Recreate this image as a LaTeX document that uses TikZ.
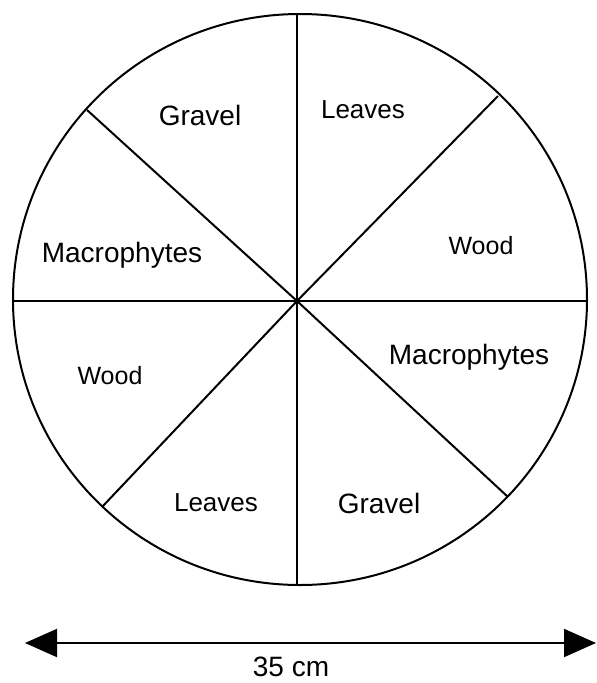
\documentclass[tikz,border=0pt]{standalone}
\usepackage{fontspec}
\setmainfont{Liberation Sans}
\usetikzlibrary{arrows.meta}
\begin{document}
\begin{tikzpicture}[x=1pt,y=-1pt,
  line/.style={line width=2pt, black},
  lbl/.style={font=\fontsize{#1}{#1}\selectfont, inner sep=0pt},
  lbl/.default=28]
\useasboundingbox (0,0) rectangle (597,683);
\coordinate (c) at (297,301);
\draw[line] (300,299.5) ellipse [x radius=287, y radius=285.5];
\coordinate (top) at (297,14);
\coordinate (bot) at (297,585);
\coordinate (lft) at (13,301);
\coordinate (rgt) at (587,301);
\coordinate (ul) at (87,110);
\coordinate (ur) at (498,96);
\coordinate (ll) at (102,507);
\coordinate (lr) at (508,497);
\draw[line] (top) -- (bot);
\draw[line] (lft) -- (rgt);
\draw[line] (ul) -- (c) -- (lr);
\draw[line] (ur) -- (c) -- (ll);
\node[lbl=28] (g1) at (200,115) {Gravel};
\node[lbl=26] (l1) at (363,110) {Leaves};
\node[lbl=28] (m1) at (122,255) {Macrophytes};
\node[lbl=25] (w1) at (481,246) {Wood};
\node[lbl=25] (w2) at (110,376) {Wood};
\node[lbl=28] (m2) at (469,357) {Macrophytes};
\node[lbl=26] (l2) at (216,503) {Leaves};
\node[lbl=28] (g2) at (379,503) {Gravel};
\coordinate (a1) at (25,643);
\coordinate (a2) at (596,643);
\draw[line, {Triangle[length=32pt,width=28pt]}-{Triangle[length=32pt,width=28pt]}] (a1) -- (a2);
\node[lbl=28] (dim) at (291,667) {35 cm};
\end{tikzpicture}
\end{document}
